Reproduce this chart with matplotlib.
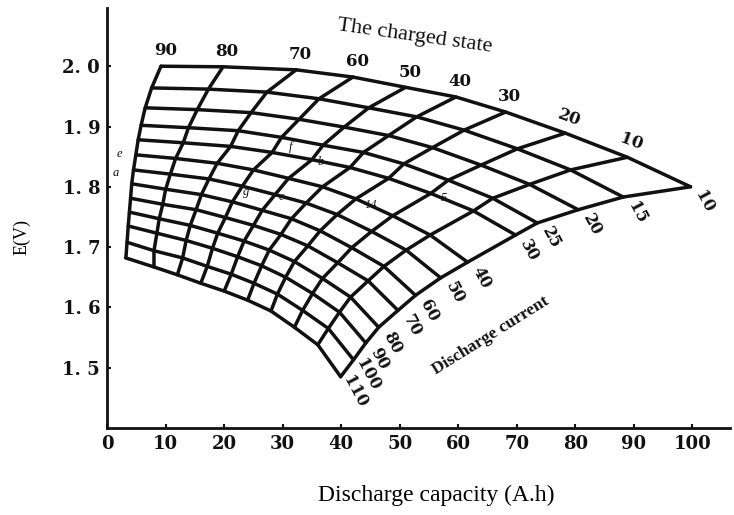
import matplotlib
matplotlib.use("Agg")
import matplotlib.pyplot as plt
import numpy as np

# ── Data ────────────────────────────────────────────────────────────
# rows: discharge current curves, columns: charged-state curves
currents = [10, 15, 20, 25, 30, 40, 50, 60, 70, 80, 90, 100, 110]
charged_states = [90, 80, 70, 60, 50, 40, 30, 20, 10, 0]

capacity = [
    [9.2, 19.8, 32.3, 42.0, 51.0, 59.6, 68.1, 78.3, 88.9, 99.7],
    [7.6, 17.3, 27.3, 36.2, 44.7, 52.9, 61.0, 70.1, 79.2, 88.2],
    [6.5, 15.4, 24.6, 32.8, 40.5, 48.1, 55.6, 63.9, 72.2, 80.5],
    [5.8, 13.9, 22.4, 29.8, 36.9, 43.8, 50.7, 58.3, 65.9, 73.5],
    [5.3, 13.0, 21.1, 28.2, 35.0, 41.5, 48.1, 55.3, 62.6, 69.8],
    [4.9, 11.7, 18.8, 25.0, 31.0, 36.8, 42.5, 48.8, 55.2, 61.6],
    [4.5, 10.8, 17.4, 23.1, 28.7, 34.0, 39.3, 45.2, 51.1, 57.0],
    [4.2, 10.0, 16.1, 21.4, 26.5, 31.5, 36.4, 41.8, 47.3, 52.7],
    [4.0, 9.5, 15.2, 20.2, 25.0, 29.7, 34.3, 39.4, 44.6, 49.7],
    [3.8, 8.9, 14.2, 18.9, 23.4, 27.7, 32.0, 36.8, 41.6, 46.4],
    [3.6, 8.5, 13.5, 18.0, 22.3, 26.4, 30.5, 35.1, 39.7, 44.2],
    [3.4, 8.0, 12.9, 17.1, 21.2, 25.1, 29.1, 33.4, 37.8, 42.1],
    [3.2, 8.0, 12.0, 16.0, 20.0, 24.0, 28.0, 32.0, 36.0, 39.9],
]

voltage = [
    [2.000, 1.999, 1.994, 1.982, 1.965, 1.949, 1.924, 1.889, 1.849, 1.800],
    [1.964, 1.962, 1.957, 1.946, 1.931, 1.916, 1.894, 1.863, 1.828, 1.783],
    [1.931, 1.928, 1.923, 1.912, 1.899, 1.885, 1.865, 1.836, 1.804, 1.762],
    [1.902, 1.898, 1.893, 1.882, 1.869, 1.857, 1.838, 1.811, 1.781, 1.740],
    [1.878, 1.873, 1.867, 1.857, 1.845, 1.832, 1.814, 1.789, 1.760, 1.720],
    [1.853, 1.847, 1.839, 1.828, 1.814, 1.800, 1.780, 1.752, 1.720, 1.675],
    [1.828, 1.821, 1.813, 1.801, 1.787, 1.773, 1.754, 1.726, 1.695, 1.649],
    [1.805, 1.796, 1.787, 1.775, 1.761, 1.747, 1.727, 1.699, 1.668, 1.620],
    [1.781, 1.771, 1.762, 1.749, 1.736, 1.721, 1.702, 1.674, 1.644, 1.595],
    [1.758, 1.747, 1.736, 1.723, 1.710, 1.695, 1.676, 1.648, 1.617, 1.567],
    [1.735, 1.723, 1.711, 1.698, 1.684, 1.669, 1.650, 1.623, 1.592, 1.541],
    [1.708, 1.694, 1.682, 1.668, 1.655, 1.640, 1.622, 1.595, 1.565, 1.513],
    [1.682, 1.667, 1.654, 1.640, 1.627, 1.612, 1.594, 1.567, 1.538, 1.485],
]

x_ticks = [0, 10, 20, 30, 40, 50, 60, 70, 80, 90, 100]
y_ticks = [1.5, 1.6, 1.7, 1.8, 1.9, 2.0]
y_tick_labels = ["1. 5", "1. 6", "1. 7", "1. 8", "1. 9", "2. 0"]

# stray hand-written marks on the scanned figure
marks = ["e", "a", "f", "b", "g", "c", "14", "5"]
mark_x = [2.0, 1.5, 31.4, 36.5, 23.7, 29.7, 45.1, 57.5]
mark_y = [1.854, 1.823, 1.866, 1.841, 1.791, 1.783, 1.770, 1.781]

SERIF = ["Liberation Serif", "DejaVu Serif"]
DIGITS = ["DejaVu Serif"]
INK = "#111111"

fig = plt.figure(figsize=(7.34, 5.15), dpi=100)
ax = fig.add_axes([0.146, 0.169, 0.849, 0.816])

C = np.array(capacity)
E = np.array(voltage)

# ── mesh ────────────────────────────────────────────────────────────
for i in range(len(currents)):
    ax.plot(C[i], E[i], color=INK, lw=2.5, solid_capstyle="round",
            solid_joinstyle="round", zorder=3)
for j in range(len(charged_states)):
    ax.plot(C[:, j], E[:, j], color=INK, lw=2.5, solid_capstyle="round",
            solid_joinstyle="round", zorder=3)

# charged-state labels along the top curve
for j, s in enumerate(charged_states[:-1]):
    rot = -20 if s <= 20 else 0
    ax.annotate(str(s), (C[0, j], E[0, j]), xytext=(3, 11),
                textcoords="offset points", ha="center", va="center",
                fontsize=12, fontweight="bold", family=DIGITS,
                rotation=rot, color=INK)

# discharge-current labels along the exhausted boundary
for i, cur in enumerate(currents):
    ax.annotate(str(cur), (C[i, -1], E[i, -1]), xytext=(10, -11),
                textcoords="offset points", ha="center", va="center",
                fontsize=11.5, fontweight="bold", family=DIGITS,
                rotation=-62, color=INK)

for m, mx, my in zip(marks, mark_x, mark_y):
    ax.text(mx, my, m, fontsize=9, style="italic", family=SERIF,
            ha="center", va="center", color=INK, zorder=4)

ax.text(52.5, 2.050, "The charged state", rotation=-8, fontsize=16,
        family=SERIF, ha="center", va="center", color=INK)
ax.text(65.5, 1.553, "Discharge current", rotation=32, fontsize=12.5,
        fontweight="bold", family=SERIF, ha="center", va="center", color=INK)

# ── axes ────────────────────────────────────────────────────────────
ax.set_xlim(0, 106.5)
ax.set_ylim(1.4, 2.097)
ax.set_xticks(x_ticks)
ax.set_xticklabels([str(v) for v in x_ticks], fontsize=13,
                   fontweight="bold", family=DIGITS)
ax.set_yticks(y_ticks)
ax.set_yticklabels(y_tick_labels, fontsize=13, fontweight="bold", family=DIGITS)
ax.tick_params(direction="in", length=3, width=1.5, colors=INK, pad=5)

for side in ["top", "right"]:
    ax.spines[side].set_visible(False)
for side in ["left", "bottom"]:
    ax.spines[side].set_linewidth(2)
    ax.spines[side].set_color(INK)

fig.text(0.595, 0.039, "Discharge capacity (A.h)", fontsize=17,
         family=SERIF, ha="center", va="center")
fig.text(0.030, 0.540, "E(V)", fontsize=13, family=SERIF,
         rotation=90, ha="center", va="center")

fig.savefig("out.png", dpi=100)
